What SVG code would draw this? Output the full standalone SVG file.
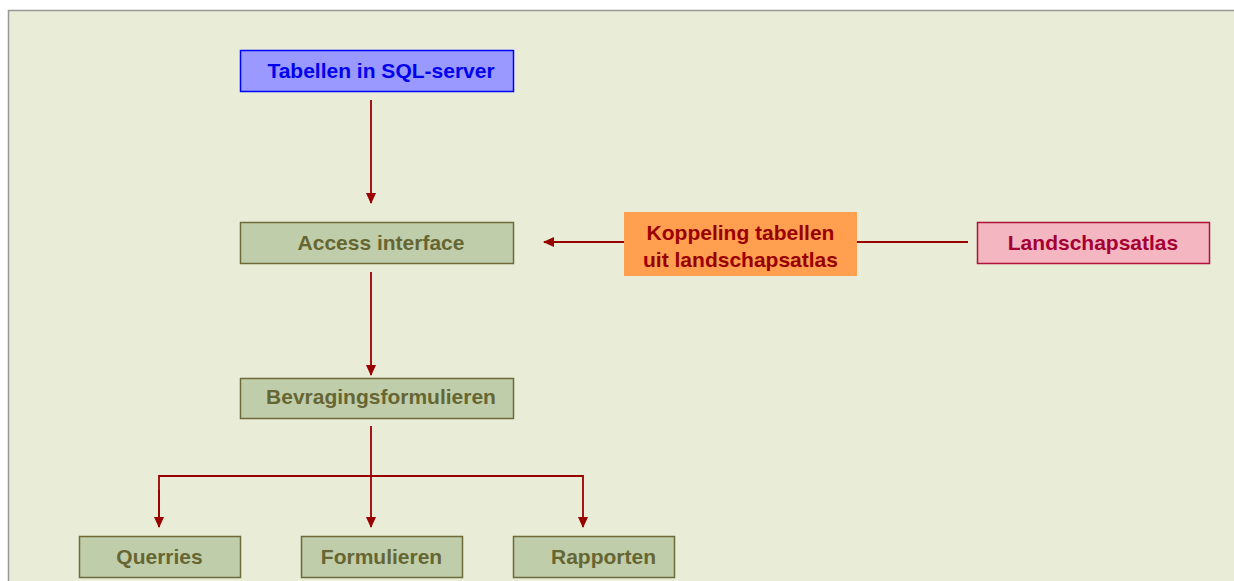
<svg xmlns="http://www.w3.org/2000/svg" width="1234" height="581" viewBox="0 0 1234 581">
<defs>
<marker id="ah" markerWidth="11" markerHeight="10" refX="10" refY="5" orient="auto" markerUnits="userSpaceOnUse">
<path d="M0,0 L11,5 L0,10 Z" fill="#990000"/>
</marker>
<style>
text{font-family:"Liberation Sans",Arial,sans-serif;font-weight:bold;font-size:21px;text-anchor:middle}
.g rect{fill:#c0cdaa;stroke:#6e6a3a;stroke-width:1.5}
.g text{fill:#666633}
.c{fill:none;stroke:#990000;stroke-width:1.8}
</style>
</defs>
<rect x="0" y="0" width="1234" height="581" fill="#ffffff"/>
<rect x="8.5" y="10.5" width="1240" height="580" fill="#e9ecd7" stroke="#999999" stroke-width="1.5"/>
<g id="connectors">
<line class="c" x1="371" y1="100" x2="371" y2="203" marker-end="url(#ah)"/>
<line class="c" x1="371" y1="272" x2="371" y2="375" marker-end="url(#ah)"/>
<line class="c" x1="371" y1="426" x2="371" y2="527" marker-end="url(#ah)"/>
<polyline class="c" points="159,527 159,476 583,476 583,527" marker-end="url(#ah)"/>
<line class="c" x1="159" y1="490" x2="159" y2="527" marker-end="url(#ah)"/>
<line class="c" x1="968" y1="242" x2="857" y2="242"/>
<line class="c" x1="624" y1="242" x2="544" y2="242" marker-end="url(#ah)"/>
</g>
<g id="tabellen">
<rect x="240.5" y="50.5" width="273" height="41" fill="#9999ff" stroke="#0000ff" stroke-width="1.5"/>
<text x="381" y="77.5" fill="#0000ee">Tabellen in SQL-server</text>
</g>
<g id="access" class="g">
<rect x="240.5" y="222.5" width="273" height="41"/>
<text x="381" y="249.5">Access interface</text>
</g>
<g id="bevragings" class="g">
<rect x="240.5" y="378.5" width="273" height="40"/>
<text x="381" y="404">Bevragingsformulieren</text>
</g>
<g id="querries" class="g">
<rect x="79.5" y="536.5" width="161" height="41"/>
<text x="159.5" y="563.5">Querries</text>
</g>
<g id="formulieren" class="g">
<rect x="301.5" y="536.5" width="161" height="41"/>
<text x="381.5" y="563.5">Formulieren</text>
</g>
<g id="rapporten" class="g">
<rect x="513.5" y="536.5" width="161" height="41"/>
<text x="603.5" y="563.5">Rapporten</text>
</g>
<g id="koppeling">
<rect x="624" y="212" width="233" height="64" fill="#ff9f4f"/>
<text x="740.5" y="240" fill="#990000">Koppeling tabellen</text>
<text x="740.5" y="266.5" fill="#990000">uit landschapsatlas</text>
</g>
<g id="landschapsatlas">
<rect x="977.5" y="222.5" width="232" height="41" fill="#f4b6c0" stroke="#b0123a" stroke-width="1.5"/>
<text x="1093" y="249.5" fill="#a50034">Landschapsatlas</text>
</g>
</svg>
